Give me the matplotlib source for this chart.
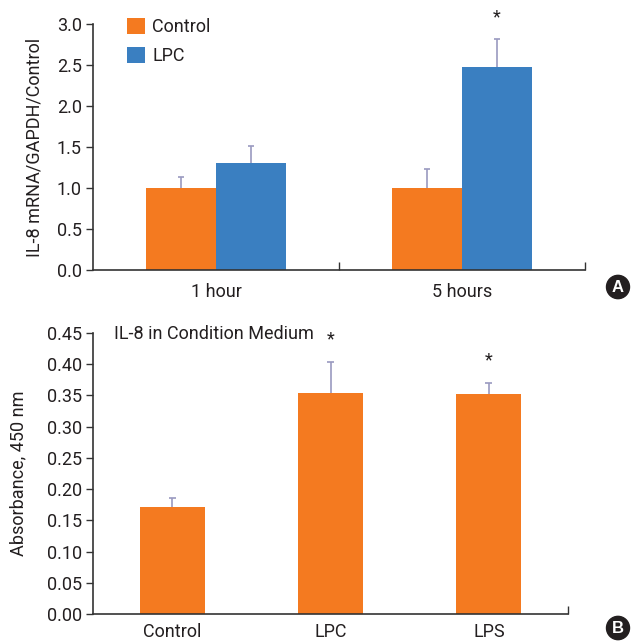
import matplotlib
matplotlib.use("Agg")
import matplotlib.pyplot as plt
from matplotlib.patches import Circle

plt.rcParams['font.family'] = ['Roboto', 'DejaVu Sans']

# Panel A data
groups_a = ["1 hour", "5 hours"]
control_a = [1.00, 1.00]
control_a_err = [0.13, 0.23]
lpc_a = [1.30, 2.48]
lpc_a_err = [0.21, 0.34]
sig_a = [False, True]
yticks_a = [0.0, 0.5, 1.0, 1.5, 2.0, 2.5, 3.0]

# Panel B data
groups_b = ["Control", "LPC", "LPS"]
vals_b = [0.172, 0.354, 0.352]
err_b = [0.014, 0.050, 0.018]
sig_b = [False, True, True]
yticks_b = [0.00, 0.05, 0.10, 0.15, 0.20, 0.25, 0.30, 0.35, 0.40, 0.45]

ORANGE = "#F47A20"
BLUE = "#3A7FC1"
ERR = "#9A9AC0"
TXT = "#231F20"
FS = 13

W, H = 633, 641
fig = plt.figure(figsize=(W / 100, H / 100), dpi=100)

def px(l, r, t, b):
    return [l / W, (H - b) / H, (r - l) / W, (b - t) / H]

def up_err(ax, x, v, e, capw):
    tops = [vi + ei for vi, ei in zip(v, e)]
    ax.vlines(x, v, tops, colors=ERR, linewidth=1.2, zorder=1)
    ax.hlines(tops, [xi - capw for xi in x], [xi + capw for xi in x],
              colors=ERR, linewidth=1.2, zorder=1)

# ---------- Panel A ----------
axA = fig.add_axes(px(93, 585, 24, 270))
bw = 0.285
xs = list(range(len(groups_a)))
xc = [x - bw / 2 for x in xs]
xl = [x + bw / 2 for x in xs]
axA.bar(xc, control_a, width=bw, color=ORANGE, label="Control", zorder=2)
axA.bar(xl, lpc_a, width=bw, color=BLUE, label="LPC", zorder=2)
up_err(axA, xc, control_a, control_a_err, 0.014)
up_err(axA, xl, lpc_a, lpc_a_err, 0.014)
for x, v, e, s in zip(xl, lpc_a, lpc_a_err, sig_a):
    if s:
        axA.text(x, v + e + 0.26, "*", ha="center", va="center", fontsize=FS, color=TXT)
axA.set_xlim(-0.5, len(groups_a) - 0.5)
axA.set_ylim(0, 3.0)
axA.set_yticks(yticks_a)
axA.set_yticklabels([f"{t:.1f}" for t in yticks_a])
axA.set_xticks([x + 0.5 for x in xs])
axA.set_xticklabels([])
axA.tick_params(axis="x", direction="in", length=6, width=1, color="#333333")
axA.tick_params(axis="y", direction="out", length=5, width=1, color="#333333",
                labelsize=FS, labelcolor=TXT, pad=3)
for x, g in zip(xs, groups_a):
    axA.text(x, -0.27, g, ha="center", va="center", fontsize=FS, color=TXT)
axA.spines["top"].set_visible(False)
axA.spines["right"].set_visible(False)
for sp in ("left", "bottom"):
    axA.spines[sp].set_color("#333333")
    axA.spines[sp].set_linewidth(1.2)
axA.set_ylabel("IL-8 mRNA/GAPDH/Control", fontsize=FS, color=TXT)
axA.yaxis.set_label_coords(-0.100, 0.5)
leg = axA.legend(loc="upper left", bbox_to_anchor=(0.069, 1.025), frameon=False,
                 handlelength=1.0, handleheight=1.0, handletextpad=0.4,
                 labelspacing=0.6, fontsize=FS, borderpad=0, borderaxespad=0)
for t in leg.get_texts():
    t.set_color(TXT)

# ---------- Panel B ----------
axB = fig.add_axes(px(93, 568, 333, 614))
bwb = 0.41
xb = list(range(len(groups_b)))
axB.bar(xb, vals_b, width=bwb, color=ORANGE, zorder=2)
up_err(axB, xb, vals_b, err_b, 0.022)
for x, v, e, s in zip(xb, vals_b, err_b, sig_b):
    if s:
        axB.text(x, v + e + 0.036, "*", ha="center", va="center", fontsize=FS, color=TXT)
axB.set_xlim(-0.5, len(groups_b) - 0.5)
axB.set_ylim(0, 0.45)
axB.set_yticks(yticks_b)
axB.set_yticklabels([f"{t:.2f}" for t in yticks_b])
axB.set_xticks([len(groups_b) - 0.5])
axB.set_xticklabels([])
axB.tick_params(axis="x", direction="in", length=6, width=1, color="#333333")
axB.tick_params(axis="y", direction="out", length=5, width=1, color="#333333",
                labelsize=FS, labelcolor=TXT, pad=3)
for x, g in zip(xb, groups_b):
    axB.text(x, -0.029, g, ha="center", va="center", fontsize=FS, color=TXT)
axB.spines["top"].set_visible(False)
axB.spines["right"].set_visible(False)
for sp in ("left", "bottom"):
    axB.spines[sp].set_color("#333333")
    axB.spines[sp].set_linewidth(1.2)
axB.set_ylabel("Absorbance, 450 nm", fontsize=FS, color=TXT)
axB.yaxis.set_label_coords(-0.139, 0.5)
axB.text(0.045, 0.995, "IL-8 in Condition Medium", transform=axB.transAxes,
         ha="left", va="center", fontsize=FS, color=TXT)

# ---------- Panel letters ----------
for (cx, cy, letter) in [(618, 287, "A"), (618, 628, "B")]:
    fx, fy = cx / W, (H - cy) / H
    c = Circle((fx, fy), 11.5 / W, transform=fig.transFigure, color="#231F20",
               clip_on=False)
    fig.patches.append(c)
    fig.text(fx, fy - 0.001, letter, ha="center", va="center", color="white",
             fontsize=12, fontweight="bold", family=["Liberation Sans", "DejaVu Sans"])

fig.savefig("out.png", dpi=100)
